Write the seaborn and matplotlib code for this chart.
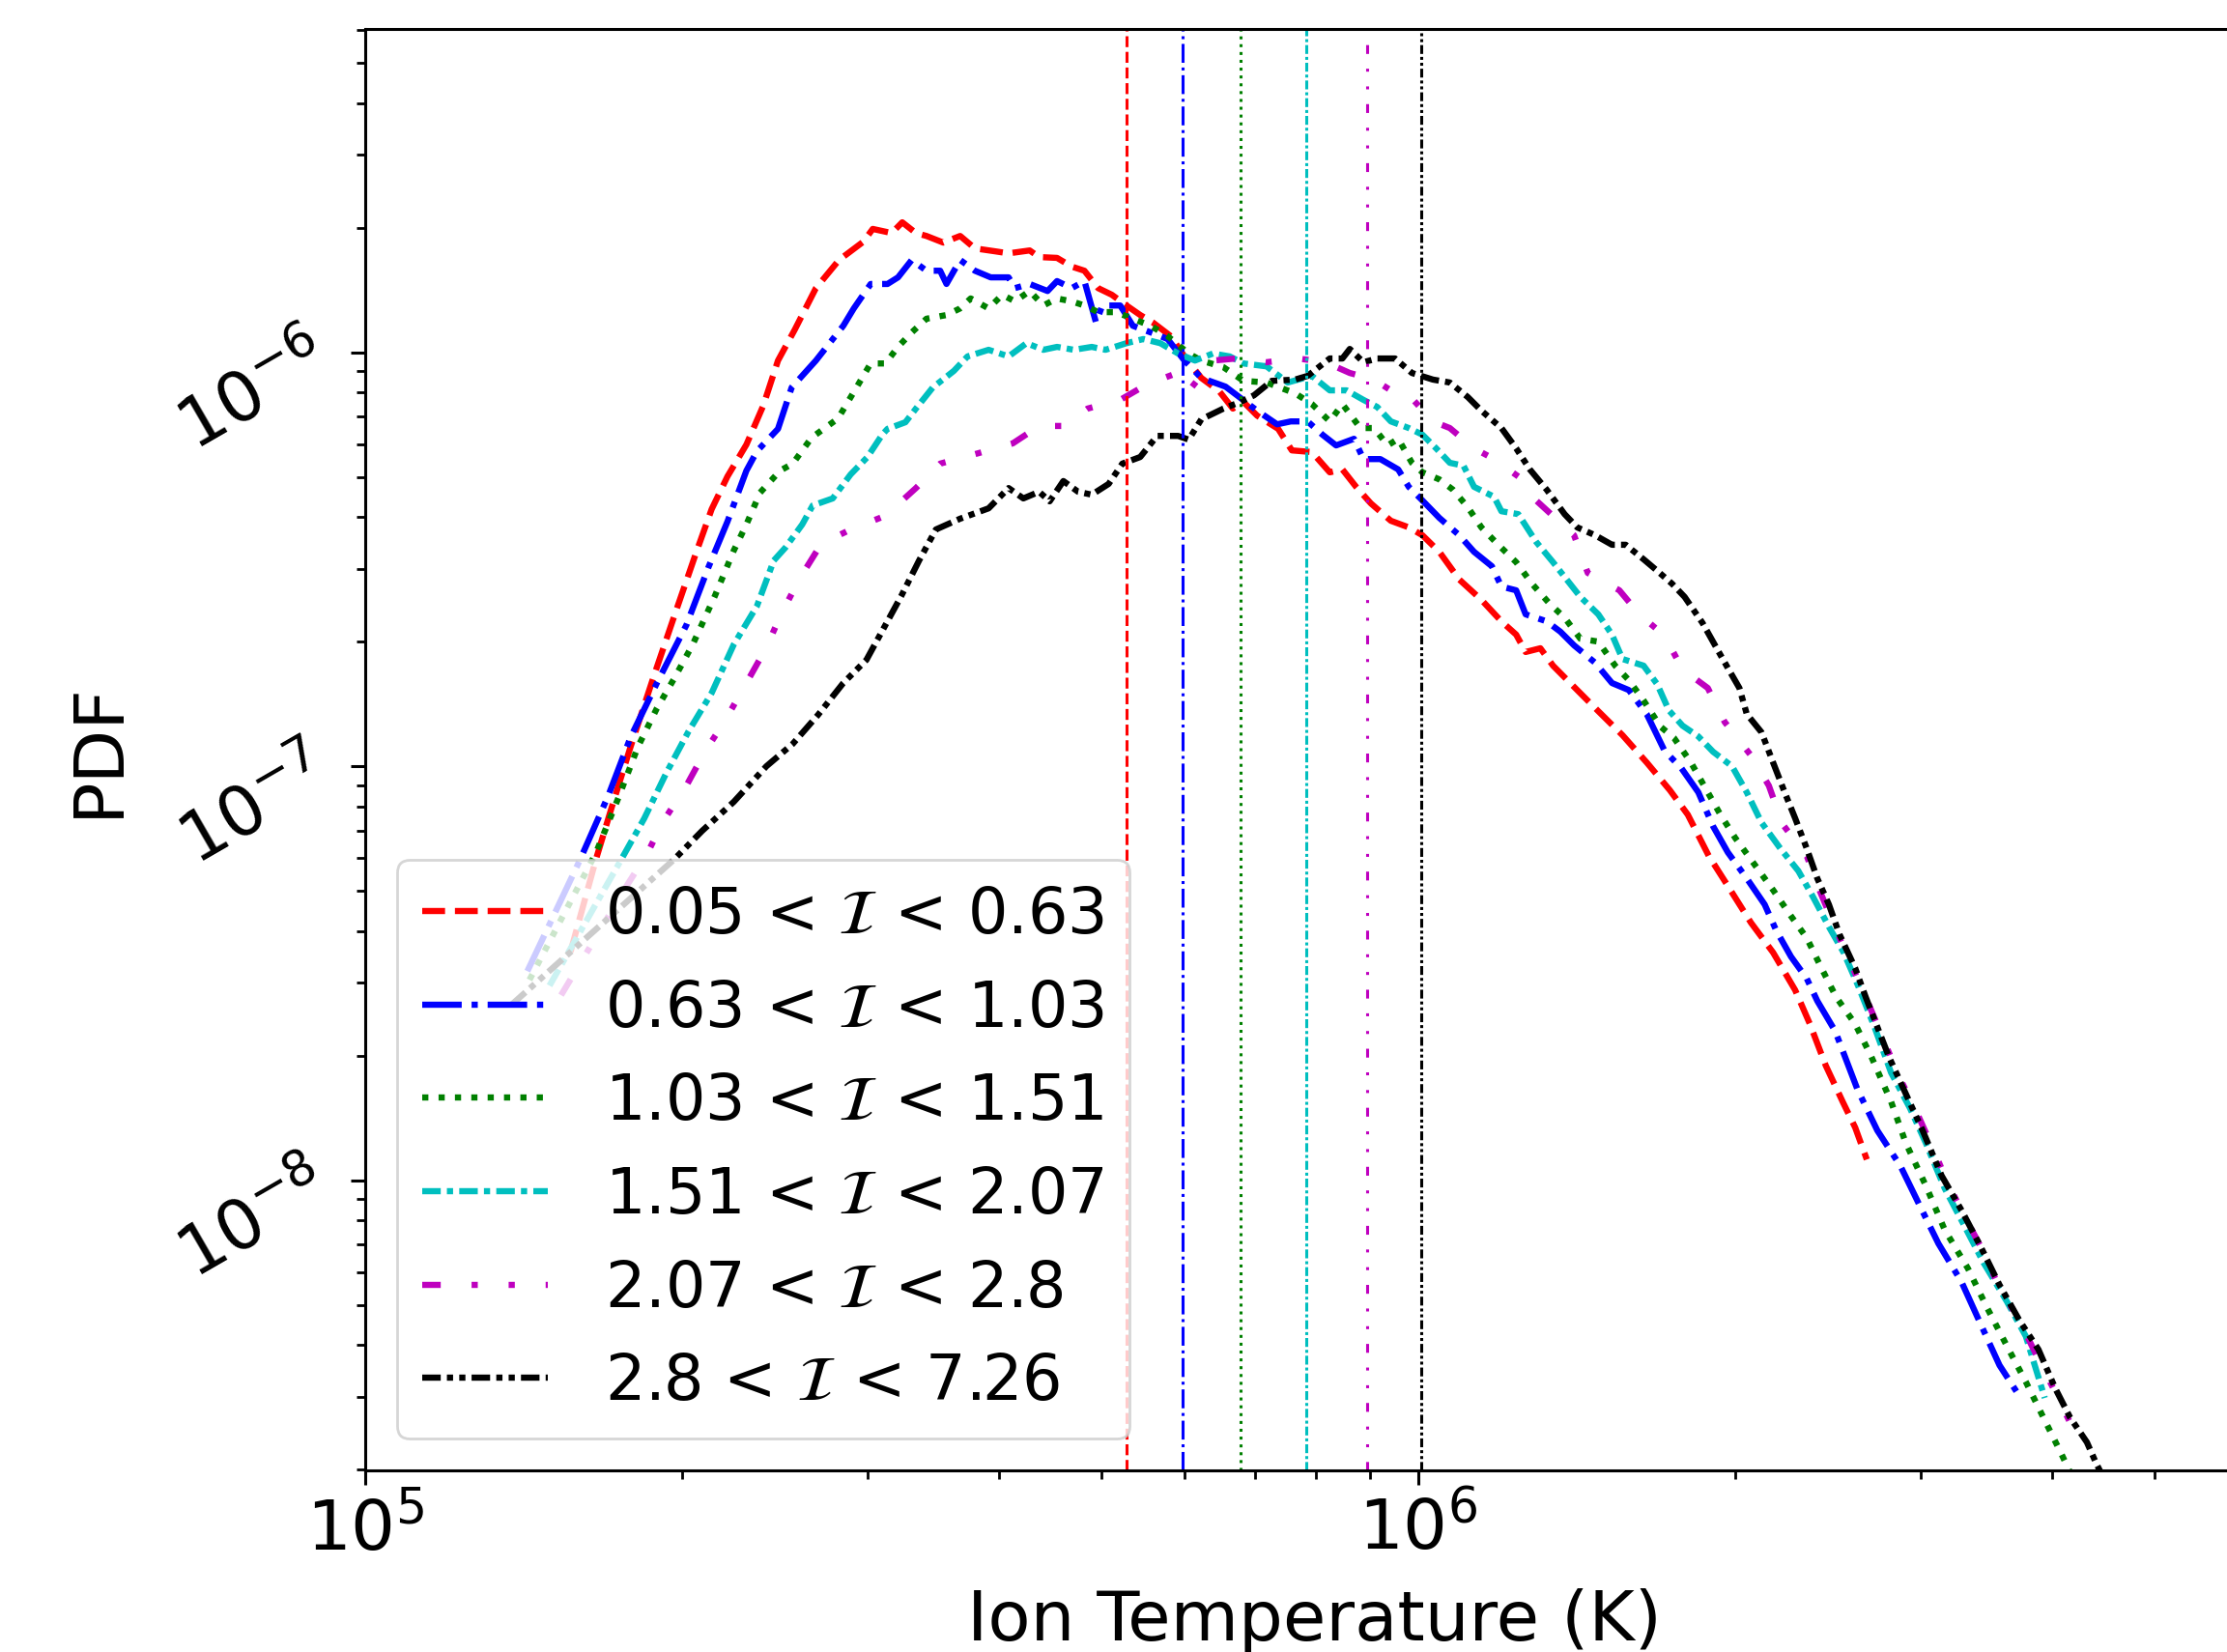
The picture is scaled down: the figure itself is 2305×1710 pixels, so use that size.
import numpy as np
import pandas as pd
import seaborn as sns
import matplotlib.pyplot as plt

# bin edges of the intermittency index and mean temperature in each bin
bin_edges = ["0.05", "0.63", "1.03", "1.51", "2.07", "2.8", "7.26"]
mean_temp = [5.28e5, 5.97e5, 6.78e5, 7.82e5, 8.95e5, 1.007e6]
colors = ["r", "b", "g", "c", "m", "k"]
styles = ["--", "-.", ":", (0, (3, 1, 1, 1)), (0, (3, 5, 1, 5, 1, 5)), (0, (3, 1, 1, 1, 1, 1))]

# PDF curves (log10 T, log10 PDF)
logT_1 = [5.195, 5.219, 5.234, 5.252, 5.274, 5.295, 5.314, 5.329, 5.344, 5.362, 5.378, 5.392, 5.408,
          5.428, 5.450, 5.473, 5.482, 5.500, 5.510, 5.523, 5.533, 5.549, 5.565, 5.579, 5.598, 5.611,
          5.631, 5.640, 5.657, 5.671, 5.683, 5.696, 5.709, 5.723, 5.736, 5.748, 5.765, 5.778, 5.794,
          5.811, 5.824, 5.834, 5.847, 5.867, 5.880, 5.899, 5.916, 5.928, 5.941, 5.955, 5.974, 5.991,
          6.004, 6.020, 6.039, 6.060, 6.079, 6.093, 6.102, 6.116, 6.128, 6.151, 6.171, 6.194, 6.217,
          6.239, 6.256, 6.276, 6.294, 6.316, 6.337, 6.358, 6.372, 6.387, 6.403, 6.415, 6.426]
logP_1 = [-7.448, -7.226, -7.100, -6.953, -6.783, -6.626, -6.486, -6.379, -6.300, -6.223, -6.129, -6.020,
          -5.945, -5.845, -5.777, -5.733, -5.702, -5.712, -5.686, -5.712, -5.719, -5.735, -5.719, -5.749,
          -5.756, -5.761, -5.754, -5.770, -5.772, -5.793, -5.803, -5.845, -5.861, -5.887, -5.910, -5.928,
          -5.961, -6.010, -6.062, -6.094, -6.136, -6.120, -6.153, -6.185, -6.237, -6.241, -6.290, -6.283,
          -6.325, -6.365, -6.407, -6.423, -6.442, -6.482, -6.549, -6.598, -6.650, -6.682, -6.724, -6.715,
          -6.757, -6.816, -6.867, -6.925, -6.991, -7.058, -7.117, -7.217, -7.289, -7.378, -7.450, -7.541,
          -7.623, -7.723, -7.810, -7.873, -7.950]

logT_2 = [5.154, 5.204, 5.231, 5.252, 5.277, 5.305, 5.326, 5.344, 5.362, 5.372, 5.392, 5.405, 5.428,
          5.454, 5.464, 5.480, 5.496, 5.506, 5.519, 5.533, 5.546, 5.552, 5.565, 5.579, 5.594, 5.611,
          5.617, 5.631, 5.648, 5.657, 5.671, 5.683, 5.694, 5.700, 5.717, 5.729, 5.746, 5.762, 5.778,
          5.794, 5.817, 5.830, 5.847, 5.866, 5.879, 5.895, 5.909, 5.922, 5.939, 5.948, 5.964, 5.981,
          5.991, 6.004, 6.020, 6.039, 6.053, 6.070, 6.079, 6.093, 6.102, 6.122, 6.135, 6.148, 6.168,
          6.184, 6.200, 6.217, 6.234, 6.250, 6.266, 6.280, 6.294, 6.312, 6.329, 6.340, 6.354, 6.369,
          6.379, 6.396, 6.417, 6.436, 6.458, 6.476, 6.494, 6.516, 6.534, 6.552, 6.568]
logP_2 = [-7.495, -7.226, -7.070, -6.930, -6.799, -6.659, -6.519, -6.409, -6.286, -6.239, -6.185, -6.085,
          -6.020, -5.936, -5.894, -5.835, -5.835, -5.819, -5.777, -5.803, -5.803, -5.835, -5.777, -5.803,
          -5.819, -5.819, -5.845, -5.835, -5.852, -5.828, -5.845, -5.828, -5.928, -5.887, -5.887, -5.936,
          -5.952, -5.968, -6.020, -6.062, -6.083, -6.108, -6.141, -6.174, -6.167, -6.167, -6.199, -6.225,
          -6.209, -6.258, -6.258, -6.283, -6.325, -6.358, -6.400, -6.442, -6.482, -6.517, -6.566, -6.575,
          -6.633, -6.650, -6.675, -6.708, -6.750, -6.799, -6.816, -6.874, -6.963, -7.005, -7.063, -7.145,
          -7.208, -7.271, -7.334, -7.397, -7.460, -7.513, -7.567, -7.640, -7.780, -7.880, -7.966, -8.060,
          -8.153, -8.246, -8.347, -8.447, -8.510]

logT_3 = [5.156, 5.219, 5.240, 5.259, 5.277, 5.293, 5.311, 5.332, 5.350, 5.362, 5.375, 5.394, 5.406,
          5.424, 5.449, 5.467, 5.480, 5.494, 5.506, 5.519, 5.533, 5.552, 5.565, 5.575, 5.592, 5.605,
          5.617, 5.631, 5.644, 5.657, 5.671, 5.683, 5.696, 5.713, 5.729, 5.746, 5.762, 5.782, 5.794,
          5.815, 5.834, 5.856, 5.883, 5.899, 5.916, 5.928, 5.945, 5.958, 5.971, 5.981, 5.994, 6.004,
          6.020, 6.033, 6.047, 6.060, 6.076, 6.093, 6.108, 6.125, 6.139, 6.154, 6.171, 6.187, 6.200,
          6.214, 6.230, 6.243, 6.259, 6.273, 6.287, 6.301, 6.319, 6.337, 6.354, 6.369, 6.383, 6.397,
          6.415, 6.430, 6.449, 6.463, 6.482, 6.500, 6.522, 6.540, 6.561, 6.577, 6.595, 6.610, 6.626]
logP_3 = [-7.516, -7.210, -7.079, -6.953, -6.860, -6.790, -6.706, -6.589, -6.479, -6.416, -6.339, -6.286,
          -6.269, -6.206, -6.160, -6.083, -6.027, -6.027, -5.987, -5.952, -5.919, -5.910, -5.894, -5.870,
          -5.894, -5.861, -5.877, -5.852, -5.887, -5.870, -5.877, -5.887, -5.903, -5.903, -5.919, -5.936,
          -5.961, -6.003, -6.020, -6.036, -6.069, -6.073, -6.099, -6.125, -6.167, -6.125, -6.183, -6.183,
          -6.225, -6.209, -6.267, -6.290, -6.307, -6.332, -6.374, -6.423, -6.465, -6.507, -6.559, -6.608,
          -6.641, -6.692, -6.699, -6.757, -6.792, -6.841, -6.904, -6.932, -6.991, -7.054, -7.117, -7.173,
          -7.236, -7.299, -7.362, -7.415, -7.488, -7.558, -7.623, -7.700, -7.810, -7.910, -8.013, -8.120,
          -8.213, -8.307, -8.410, -8.487, -8.580, -8.657, -8.743]

logT_4 = [5.175, 5.243, 5.265, 5.286, 5.307, 5.329, 5.350, 5.372, 5.388, 5.399, 5.415, 5.425, 5.444,
          5.461, 5.477, 5.491, 5.496, 5.513, 5.523, 5.539, 5.559, 5.572, 5.592, 5.611, 5.628, 5.644,
          5.657, 5.673, 5.690, 5.703, 5.723, 5.739, 5.755, 5.772, 5.788, 5.805, 5.821, 5.834, 5.856,
          5.876, 5.899, 5.916, 5.932, 5.948, 5.961, 5.974, 5.991, 6.004, 6.017, 6.030, 6.043, 6.053,
          6.072, 6.079, 6.095, 6.112, 6.128, 6.141, 6.154, 6.171, 6.184, 6.194, 6.214, 6.227, 6.238,
          6.251, 6.266, 6.280, 6.298, 6.312, 6.326, 6.344, 6.361, 6.375, 6.390, 6.404, 6.418, 6.433,
          6.449, 6.467, 6.482, 6.500, 6.518, 6.537, 6.559, 6.577, 6.595]
logP_4 = [-7.530, -7.226, -7.126, -7.016, -6.916, -6.823, -6.706, -6.613, -6.503, -6.472, -6.416, -6.370,
          -6.353, -6.295, -6.253, -6.199, -6.185, -6.169, -6.136, -6.085, -6.045, -6.010, -5.994, -6.010,
          -5.978, -5.994, -5.987, -5.994, -5.987, -5.994, -5.978, -5.968, -5.978, -6.003, -6.020, -6.003,
          -6.010, -6.027, -6.034, -6.073, -6.057, -6.092, -6.092, -6.115, -6.132, -6.167, -6.183, -6.199,
          -6.232, -6.267, -6.274, -6.325, -6.349, -6.384, -6.391, -6.458, -6.507, -6.549, -6.591, -6.633,
          -6.682, -6.741, -6.757, -6.802, -6.865, -6.902, -6.928, -6.965, -7.000, -7.063, -7.136, -7.199,
          -7.253, -7.316, -7.388, -7.450, -7.532, -7.628, -7.740, -7.826, -7.910, -8.020, -8.107, -8.200,
          -8.293, -8.377, -8.526]

logT_5 = [5.186, 5.250, 5.268, 5.283, 5.305, 5.323, 5.341, 5.362, 5.381, 5.394, 5.412, 5.433, 5.461,
          5.494, 5.523, 5.546, 5.582, 5.615, 5.640, 5.663, 5.686, 5.717, 5.742, 5.769, 5.782, 5.805,
          5.827, 5.856, 5.886, 5.912, 5.935, 5.958, 5.974, 5.987, 6.014, 6.030, 6.053, 6.072, 6.095,
          6.112, 6.148, 6.161, 6.191, 6.210, 6.234, 6.251, 6.275, 6.291, 6.316, 6.333, 6.346, 6.369,
          6.381, 6.397, 6.425, 6.443, 6.456, 6.472, 6.488, 6.504, 6.518, 6.534, 6.552, 6.571, 6.589,
          6.606, 6.621]
logP_5 = [-7.553, -7.282, -7.210, -7.133, -7.047, -6.963, -6.893, -6.799, -6.713, -6.638, -6.549, -6.463,
          -6.428, -6.395, -6.328, -6.269, -6.244, -6.220, -6.178, -6.178, -6.136, -6.115, -6.078, -6.052,
          -6.094, -6.020, -6.015, -6.024, -6.015, -6.024, -6.050, -6.066, -6.092, -6.092, -6.167, -6.183,
          -6.232, -6.258, -6.300, -6.358, -6.442, -6.533, -6.575, -6.633, -6.685, -6.766, -6.811, -6.893,
          -6.974, -7.047, -7.140, -7.217, -7.299, -7.397, -7.558, -7.667, -7.747, -7.828, -7.919, -8.013,
          -8.083, -8.160, -8.260, -8.339, -8.433, -8.517, -8.596]

logT_6 = [5.139, 5.293, 5.320, 5.350, 5.381, 5.406, 5.430, 5.454, 5.476, 5.491, 5.509, 5.526, 5.542,
          5.565, 5.592, 5.611, 5.625, 5.640, 5.650, 5.663, 5.677, 5.690, 5.706, 5.719, 5.736, 5.752,
          5.772, 5.782, 5.794, 5.815, 5.831, 5.844, 5.861, 5.883, 5.895, 5.916, 5.928, 5.935, 5.948,
          5.961, 5.978, 5.994, 6.014, 6.030, 6.047, 6.060, 6.079, 6.093, 6.106, 6.122, 6.139, 6.151,
          6.168, 6.184, 6.197, 6.214, 6.227, 6.241, 6.253, 6.270, 6.283, 6.295, 6.305, 6.312, 6.326,
          6.337, 6.348, 6.358, 6.369, 6.379, 6.390, 6.400, 6.415, 6.425, 6.436, 6.447, 6.461, 6.479,
          6.497, 6.516, 6.534, 6.552, 6.571, 6.589, 6.605, 6.619, 6.635, 6.644, 6.658]
logP_6 = [-7.576, -7.226, -7.156, -7.086, -7.000, -6.946, -6.876, -6.799, -6.743, -6.673, -6.589, -6.503,
          -6.428, -6.402, -6.377, -6.328, -6.353, -6.337, -6.360, -6.311, -6.337, -6.344, -6.318, -6.269,
          -6.253, -6.202, -6.202, -6.211, -6.162, -6.136, -6.120, -6.104, -6.069, -6.066, -6.057, -6.015,
          -6.015, -5.992, -6.024, -6.015, -6.015, -6.050, -6.066, -6.073, -6.108, -6.141, -6.183, -6.232,
          -6.283, -6.332, -6.391, -6.423, -6.442, -6.465, -6.465, -6.500, -6.528, -6.559, -6.591, -6.654,
          -6.713, -6.767, -6.811, -6.874, -6.918, -6.991, -7.063, -7.126, -7.199, -7.271, -7.334, -7.406,
          -7.488, -7.558, -7.630, -7.702, -7.780, -7.880, -7.989, -8.073, -8.160, -8.253, -8.339, -8.409,
          -8.503, -8.573, -8.633, -8.685, -8.755]

curves = [(logT_1, logP_1), (logT_2, logP_2), (logT_3, logP_3),
          (logT_4, logP_4), (logT_5, logP_5), (logT_6, logP_6)]

sns.set_style("ticks", {"axes.edgecolor": "black", "xtick.color": "black", "ytick.color": "black",
                        "text.color": "black", "axes.labelcolor": "black"})
plt.rcParams["font.family"] = ["DejaVu Sans"]

fig = plt.figure(figsize=(11.525, 8.55), dpi=200)
ax = fig.add_axes([378 / 2305, 1 - 1522 / 1710, 1964 / 2305, 1492 / 1710])
ax.set_xscale("log")
ax.set_yscale("log")

for i, (lt, lp) in enumerate(curves):
    df = pd.DataFrame({"T": 10 ** np.array(lt), "pdf": 10 ** np.array(lp)})
    label = f"{bin_edges[i]} < $\\mathcal{{I}}$ < {bin_edges[i + 1]}"
    sns.lineplot(data=df, x="T", y="pdf", ax=ax, color=colors[i], linestyle=styles[i],
                 linewidth=2.3, label=label, sort=False, estimator=None)

for i, m in enumerate(mean_temp):
    ax.axvline(m, color=colors[i], linestyle=styles[i], linewidth=1.1)

ax.set_xlim(1e5, 10 ** 6.802)
ax.set_ylim(10 ** -8.701, 10 ** -5.219)

for s in ax.spines.values():
    s.set_linewidth(1.1)
ax.tick_params(which="major", length=5.5, width=1.1, labelsize=26)
ax.tick_params(which="minor", length=3.2, width=1.0)
ax.tick_params(axis="y", labelrotation=30)

ax.set_xlabel("Ion Temperature (K)", fontsize=26, labelpad=9)
ax.set_ylabel("PDF", fontsize=26, labelpad=13)

ax.legend(loc="lower left", fontsize=23.5, handlelength=2.0, handletextpad=0.9,
          labelspacing=0.5, borderaxespad=0.5)

fig.savefig("out.png", dpi=200)
